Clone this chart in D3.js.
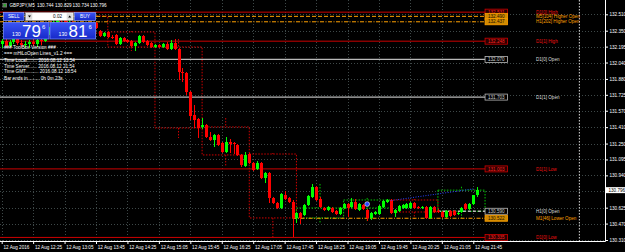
<!DOCTYPE html>
<html>
<head>
<meta charset="utf-8">
<script src="https://cdn.jsdelivr.net/npm/d3@7"></script>
<style>
body{margin:0;background:#000;overflow:hidden}
svg{display:block}
text{font-family:"Liberation Sans",Arial,sans-serif}
</style>
</head>
<body>
<div id="chart"></div>
<script>
// GBPJPY M5, 12 Aug 2016, one bar every 5 minutes from 11:45
const symbol = "GBPJPY,M5"
const firstBarTime = "2016-08-12 11:45"

const opens = [132.221,132.250,132.201,132.240,132.269,132.230,132.211,132.221,132.240,132.221,132.260,132.250,132.328,132.377,132.435,132.493,132.454,132.415,132.435,132.396,132.406,132.377,132.386,132.357,132.425,132.347,132.298,132.338,132.289,132.308,132.221,132.279,132.260,132.250,132.201,132.230,132.298,132.250,132.230,132.191,132.211,132.191,132.221,132.172,132.230,132.172,131.948,131.938,131.753,131.529,131.490,131.412,131.431,131.314,131.285,131.334,131.256,131.168,131.265,131.256,131.236,131.139,131.032,131.148,131.061,131.002,131.061,130.915,130.963,130.720,130.671,130.622,130.749,130.720,130.681,130.525,130.573,130.554,130.651,130.729,130.827,130.710,130.622,130.603,130.622,130.593,130.564,130.622,130.661,130.632,130.681,130.603,130.651,130.603,130.525,130.564,130.564,130.632,130.681,130.700,130.573,130.593,130.622,130.622,130.622,130.671,130.632,130.622,130.632,130.525,130.632,130.590,130.583,130.534,130.593,130.593,130.564,130.583,130.661,130.612,130.661,130.744]
const highs = [132.269,132.279,132.260,132.289,132.298,132.260,132.250,132.260,132.269,132.279,132.298,132.338,132.386,132.454,132.531,132.503,132.474,132.454,132.445,132.425,132.415,132.406,132.396,132.425,132.435,132.357,132.338,132.347,132.308,132.318,132.289,132.289,132.269,132.260,132.240,132.308,132.308,132.260,132.240,132.221,132.221,132.230,132.240,132.260,132.269,132.182,131.987,131.948,131.763,131.626,131.499,131.499,131.441,131.363,131.343,131.343,131.265,131.314,131.295,131.265,131.246,131.148,131.168,131.158,131.070,131.080,131.070,130.973,130.973,130.729,130.681,130.768,130.788,130.729,130.700,130.583,130.583,130.661,130.749,130.856,130.837,130.729,130.632,130.642,130.632,130.603,130.632,130.671,130.671,130.720,130.710,130.671,130.661,130.612,130.583,130.593,130.651,130.700,130.710,130.710,130.612,130.651,130.661,130.671,130.681,130.681,130.642,130.642,130.642,130.642,130.642,130.612,130.593,130.603,130.603,130.603,130.583,130.632,130.671,130.671,130.749,130.829]
const lows = [132.182,132.191,132.191,132.221,132.211,132.191,132.182,132.182,132.201,132.191,132.211,132.240,132.308,132.357,132.415,132.435,132.396,132.396,132.377,132.377,132.357,132.357,132.338,132.347,132.367,132.289,132.289,132.279,132.269,132.211,132.211,132.240,132.230,132.191,132.152,132.221,132.230,132.201,132.182,132.182,132.182,132.182,132.162,132.162,132.162,131.870,131.850,131.724,131.480,131.402,131.304,131.392,131.304,131.275,131.217,131.226,131.158,131.158,131.158,131.148,131.129,131.022,131.022,131.051,130.983,130.992,130.905,130.866,130.671,130.661,130.612,130.612,130.700,130.671,130.335,130.476,130.466,130.544,130.642,130.720,130.690,130.622,130.593,130.593,130.573,130.554,130.554,130.612,130.534,130.622,130.603,130.593,130.603,130.495,130.505,130.554,130.554,130.622,130.671,130.564,130.534,130.583,130.612,130.612,130.612,130.612,130.612,130.612,130.515,130.515,130.573,130.573,130.525,130.525,130.534,130.544,130.554,130.573,130.603,130.603,130.651,130.734]
const closes = [132.250,132.201,132.240,132.269,132.230,132.211,132.221,132.240,132.221,132.260,132.250,132.328,132.377,132.435,132.493,132.454,132.415,132.435,132.396,132.406,132.377,132.386,132.357,132.415,132.377,132.298,132.328,132.289,132.279,132.221,132.279,132.250,132.240,132.201,132.230,132.298,132.240,132.211,132.191,132.211,132.191,132.221,132.172,132.230,132.172,131.948,131.938,131.753,131.519,131.480,131.402,131.431,131.314,131.285,131.334,131.236,131.168,131.265,131.246,131.246,131.139,131.041,131.139,131.061,130.992,131.061,130.915,130.963,130.720,130.671,130.622,130.759,130.710,130.681,130.525,130.573,130.525,130.651,130.739,130.827,130.700,130.632,130.603,130.632,130.583,130.564,130.622,130.661,130.622,130.681,130.612,130.661,130.612,130.525,130.573,130.583,130.642,130.690,130.700,130.573,130.603,130.642,130.651,130.661,130.671,130.622,130.622,130.632,130.525,130.632,130.583,130.583,130.534,130.593,130.544,130.554,130.573,130.622,130.612,130.661,130.744,130.796]

const priceTicks = [132.510,132.350,132.195,132.040,131.880,131.725,131.570,131.410,131.250,131.095,130.940,130.785,130.625,130.470,130.310]
const timeTicks = ["11:45","12:25","13:05","13:45","14:25","15:05","15:45","16:25","17:05","17:45","18:25","19:05","19:45","20:25","21:05","21:45"]

// horizontal levels drawn by the HiLoOpen indicator
const levelNames  = ["D1[0] High","M5[104] Higher Open","H1[202] Higher Open","D1[1] High","D1[0] Open","D1[1] Open","D1[1] Low","H1[0] Open","M1[46] Lower Open","D1[0] Low"]
const levelPrices = [132.531,132.490,132.437,132.248,132.070,131.703,131.003,130.590,130.522,130.335]
const levelFrom   = [null,null,null,null,null,null,null,"2016-08-12 21:00","2016-08-12 17:55",null]
const levelsEnd = "2016-08-12 22:00"
const dayEnd = "2016-08-13 00:00"

const tradeLine = [["2016-08-12 20:00",130.694],["2016-08-12 21:45",130.808]]
const tradeMark = ["2016-08-12 19:30",130.660]

const infoLines = ["### ToolBox Version ###","=== mHiLoOpen Lines_v1.2 ===","Time Local........ 2016.08.12 13:54","Time Server...... 2016.08.12 21:54","Time GMT.......... 2016.08.12 18:54","Bar ends in......... 0h 0m 23s"]
const lotSize = "0.02"
const bidText = ["130","79","6"]
const askText = ["130","81","6"]

const parseTime = d3.timeParse("%Y-%m-%d %H:%M")
const t0 = parseTime(firstBarTime)
const bars = opens.map((o,i)=>({t: d3.timeMinute.offset(t0, 5*i), o: o, h: highs[i], l: lows[i], c: closes[i]}))
const last = bars[bars.length-1]

const W = 625, H = 252
const plotRight = 605.5, plotBottom = 241.5

const x = d3.scaleTime().domain([t0, last.t]).range([1.7, 477.2])
const y = d3.scaleLinear().domain([130.310, 132.510]).range([240, 14.3])

const svg = d3.select("#chart").append("svg").attr("width", W).attr("height", H)
svg.append("rect").attr("width", W).attr("height", H).attr("fill", "#000")

const tickDates = timeTicks.map(s=>parseTime("2016-08-12 " + s))

// grid
const grid = svg.append("g").attr("stroke", "#3e4848").attr("stroke-dasharray", "1,2").attr("shape-rendering", "crispEdges")
grid.selectAll(".gv").data(tickDates).enter().append("line")
    .attr("x1", d=>Math.round(x(d))+0.5).attr("x2", d=>Math.round(x(d))+0.5)
    .attr("y1", 0).attr("y2", plotBottom)
grid.selectAll(".gh").data(priceTicks).enter().append("line")
    .attr("y1", d=>Math.round(y(d))+0.5).attr("y2", d=>Math.round(y(d))+0.5)
    .attr("x1", 0).attr("x2", plotRight)

// day separator
svg.append("line")
    .attr("x1", x(parseTime(dayEnd))).attr("x2", x(parseTime(dayEnd)))
    .attr("y1", 0).attr("y2", plotBottom)
    .attr("stroke", "#d8d8d8").attr("stroke-dasharray", "1.5,1.5")

// H1 candles as dotted boxes
const hours = d3.groups(bars, d=>+d3.timeHour.floor(d.t))
    .filter(g=>g[0] >= +parseTime("2016-08-12 13:00"))
const h1 = svg.append("g").attr("fill", "none").attr("stroke-dasharray", "1.5,1.5").attr("stroke-width", 1)
hours.forEach(([k, list])=>{
    const start = new Date(k)
    const o = list[0].o, c = list[list.length-1].c
    const hi = d3.max(list, d=>d.h), lo = d3.min(list, d=>d.l)
    const col = c >= o ? "#00c800" : "#d00000"
    const x0 = x(start), x1 = x(d3.timeHour.offset(start, 1))
    const top = y(Math.max(o,c)), bot = y(Math.min(o,c))
    h1.append("rect").attr("x", x0).attr("y", top).attr("width", x1-x0).attr("height", Math.max(bot-top, 1)).attr("stroke", col)
    const mid = (x0+x1)/2
    h1.append("line").attr("x1", mid).attr("x2", mid).attr("y1", y(hi)).attr("y2", top).attr("stroke", col)
    h1.append("line").attr("x1", mid).attr("x2", mid).attr("y1", bot).attr("y2", y(lo)).attr("stroke", col)
})

// levels
const levelX = x(parseTime(levelsEnd))
const levelStyle = name=>{
    if (name.includes("Higher Open") || name.includes("Lower Open")) {
        return {col: "#ffa000", dash: name.startsWith("M5") ? "4,2" : "4,1.5,1,1.5", box: "#d08a00", txt: "#201000", name: "#ffa000", w: 1}
    }
    if (name.endsWith("High") || name.endsWith("Low")) {
        return {col: "#cc0000", dash: null, box: "#2a0000", txt: "#ff2020", name: "#ee1010", w: 1}
    }
    return {col: "#b8b8b8", dash: name.startsWith("H1") ? "3,2" : null, box: "#000", txt: "#d0d0d0", name: "#dcdcdc", w: 1.3}
}
const lv = svg.append("g")
levelNames.forEach((name,i)=>{
    const s = levelStyle(name)
    const py = y(levelPrices[i])
    const xs = levelFrom[i] ? x(parseTime(levelFrom[i])) : 0
    lv.append("line").attr("x1", xs).attr("x2", levelX).attr("y1", py).attr("y2", py)
        .attr("stroke", s.col).attr("stroke-width", s.w).attr("stroke-dasharray", s.dash)
})

// M5 candles
const cg = svg.append("g").attr("shape-rendering", "crispEdges")
cg.selectAll(".wick").data(bars).enter().append("line")
    .attr("x1", d=>Math.round(x(d.t))+0.5).attr("x2", d=>Math.round(x(d.t))+0.5)
    .attr("y1", d=>y(d.h)).attr("y2", d=>y(d.l))
    .attr("stroke", d=>d.c >= d.o ? "#00ff00" : "#ff0000")
cg.selectAll(".body").data(bars).enter().append("rect")
    .attr("x", d=>Math.round(x(d.t))-1).attr("width", 3)
    .attr("y", d=>y(Math.max(d.o,d.c)))
    .attr("height", d=>Math.max(y(Math.min(d.o,d.c)) - y(Math.max(d.o,d.c)), 1))
    .attr("fill", d=>d.c >= d.o ? "#00ff00" : "#ff0000")

// trade arrows
svg.append("line")
    .attr("x1", x(parseTime(tradeLine[0][0]))).attr("y1", y(tradeLine[0][1]))
    .attr("x2", x(parseTime(tradeLine[1][0]))).attr("y2", y(tradeLine[1][1]))
    .attr("stroke", "#2840ff").attr("stroke-dasharray", "1,1.5")
svg.append("circle").attr("cx", x(parseTime(tradeMark[0]))).attr("cy", y(tradeMark[1])).attr("r", 2.4)
    .attr("fill", "#2840ff").attr("stroke", "#fff").attr("stroke-width", 0.6)

// level labels
levelNames.forEach((name,i)=>{
    const s = levelStyle(name)
    const py = y(levelPrices[i])
    lv.append("rect").attr("x", levelX).attr("y", py-3).attr("width", 22.5).attr("height", 6)
        .attr("fill", s.box).attr("stroke", s.col).attr("stroke-width", 0.8)
    lv.append("text").attr("x", levelX+11.25).attr("y", py).attr("dy", "0.35em").attr("text-anchor", "middle")
        .attr("font-size", 4.6).attr("fill", s.txt).text(levelPrices[i].toFixed(3))
    lv.append("text").attr("x", 536).attr("y", py).attr("dy", "0.35em")
        .attr("font-size", 4.6).attr("fill", s.name)
        .text(name)
})

// axes
const yAxis = d3.axisRight(y).tickValues(priceTicks).tickSize(2.5).tickPadding(1.5).tickFormat(d3.format(".3f"))
const ga = svg.append("g").attr("transform", `translate(${plotRight},0)`).call(yAxis)
ga.select(".domain").remove()
ga.selectAll("line").attr("stroke", "#fff")
ga.selectAll("text").attr("fill", "#fff").attr("font-size", 4.6).attr("font-family", "Liberation Sans")

const xAxis = d3.axisBottom(x).tickValues(tickDates).tickSize(2.5).tickPadding(1.5)
    .tickFormat((d,i)=> i === 0 ? "12 Aug 2016" : d3.timeFormat("%d %b %H:%M")(d))
const gx = svg.append("g").attr("transform", `translate(0,${plotBottom})`).call(xAxis)
gx.select(".domain").remove()
gx.selectAll("line").attr("stroke", "#fff")
gx.selectAll("text").attr("fill", "#fff").attr("font-size", 4.6).attr("text-anchor", "start").attr("dx", 1.3)
    .attr("font-family", "Liberation Sans")

svg.append("line").attr("x1", plotRight).attr("x2", plotRight).attr("y1", 0).attr("y2", plotBottom).attr("stroke", "#fff")
svg.append("line").attr("x1", 0).attr("x2", plotRight).attr("y1", plotBottom).attr("y2", plotBottom).attr("stroke", "#fff")

// current bid on the price scale
const bidY = y(last.c)
svg.append("rect").attr("x", 606).attr("y", bidY-3).attr("width", 19).attr("height", 6).attr("fill", "#fff")
svg.append("text").attr("x", 608.5).attr("y", bidY).attr("dy", "0.35em").attr("font-size", 4.6).attr("fill", "#000")
    .text(last.c.toFixed(3))

// header
svg.append("rect").attr("x", 2.5).attr("y", 3).attr("width", 4.5).attr("height", 4.5).attr("fill", "#707070")
svg.append("rect").attr("x", 3.5).attr("y", 4).attr("width", 2.5).attr("height", 2.5).attr("fill", "#30a030")
const headerVals = [symbol, last.o.toFixed(3), last.h.toFixed(3), last.l.toFixed(3), last.c.toFixed(3)]
const headerX = [9.5, 37, 55, 72.5, 90]
headerVals.forEach((v,i)=>{
    svg.append("text").attr("x", headerX[i]).attr("y", 7.3).attr("font-size", 4.6).attr("fill", "#fff").text(v)
})

// info text
svg.append("g").selectAll("text").data(infoLines).enter().append("text")
    .attr("x", 4).attr("y", (d,i)=>[49.3,55,61.6,67.6,73.3,80][i])
    .attr("font-size", 4.7).attr("fill", "#fff").text(d=>d)

// one click trading panel
const defs = svg.append("defs")
const g1 = defs.append("linearGradient").attr("id", "big").attr("x1", 0).attr("y1", 0).attr("x2", 0).attr("y2", 1)
g1.append("stop").attr("offset", "0%").attr("stop-color", "#3a55f5")
g1.append("stop").attr("offset", "100%").attr("stop-color", "#1628c8")
const panel = svg.append("g")
const btn = (bx, label, w)=>{
    panel.append("rect").attr("x", bx).attr("y", 12.5).attr("width", w).attr("height", 8)
        .attr("fill", "url(#big)").attr("stroke", "#90a4ff").attr("stroke-width", 0.7)
    panel.append("text").attr("x", bx+w/2).attr("y", 18.2).attr("text-anchor", "middle")
        .attr("font-size", 4.8).attr("fill", "#fff").text(label)
}
btn(3.5, "SELL", 20.5)
btn(74.5, "BUY", 21)
panel.append("rect").attr("x", 25.5).attr("y", 12.5).attr("width", 48).attr("height", 8).attr("fill", "#fff").attr("stroke", "#9a9a9a").attr("stroke-width", 0.6)
panel.append("rect").attr("x", 26.3).attr("y", 13.3).attr("width", 6).attr("height", 6.4).attr("fill", "#dcdcdc")
panel.append("rect").attr("x", 66.7).attr("y", 13.3).attr("width", 6).attr("height", 6.4).attr("fill", "#dcdcdc")
panel.append("path").attr("d", "M28,15.5 L31,15.5 L29.5,17.5 Z").attr("fill", "#000")
panel.append("path").attr("d", "M68.2,17.5 L71.2,17.5 L69.7,15.5 Z").attr("fill", "#000")
panel.append("text").attr("x", 62).attr("y", 18.2).attr("text-anchor", "end").attr("font-size", 4.6).attr("fill", "#000").text(lotSize)

const bigBox = (bx, parts)=>{
    panel.append("rect").attr("x", bx).attr("y", 22.5).attr("width", 45.5).attr("height", 16.5)
        .attr("fill", "url(#big)").attr("stroke", "#7086ff").attr("stroke-width", 0.8)
    panel.append("text").attr("x", bx+8.5).attr("y", 35.6).attr("font-size", 5.2).attr("fill", "#fff").text(parts[0])
    panel.append("text").attr("x", bx+18.5).attr("y", 37.2).attr("font-size", 17).attr("fill", "#fff").text(parts[1])
    panel.append("text").attr("x", bx+38.5).attr("y", 28.5).attr("font-size", 6).attr("fill", "#fff").text(parts[2])
}
bigBox(3.5, bidText)
bigBox(50, askText)
</script>
</body>
</html>
